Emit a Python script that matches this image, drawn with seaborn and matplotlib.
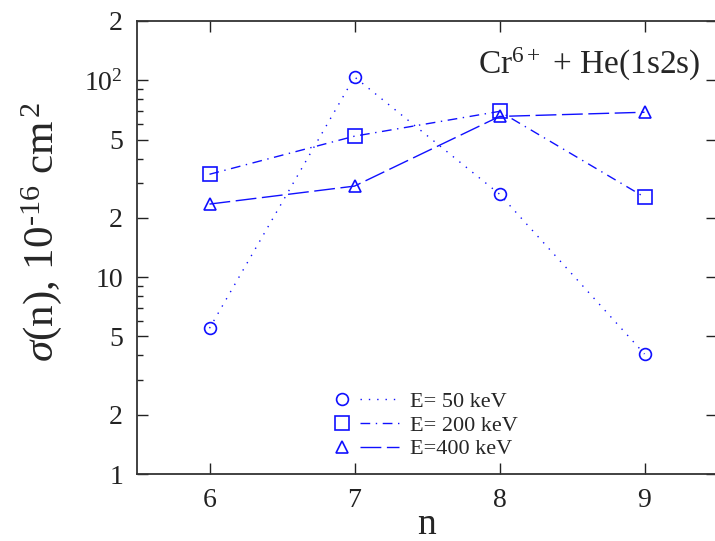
import numpy as np
import pandas as pd
import matplotlib
matplotlib.use("Agg")
import matplotlib.pyplot as plt
import seaborn as sns
from matplotlib.lines import Line2D
from matplotlib.legend_handler import HandlerBase

# ---- data ----
n_vals = [6, 7, 8, 9]
sigma_50 = [5.5, 104, 26.4, 4.07]
sigma_200 = [33.3, 52, 69.5, 25.5]
sigma_400 = [23.5, 29.0, 65.5, 68.8]
labels = ["E= 50 keV", "E= 200 keV", "E=400 keV"]
ytick_vals = [1, 2, 5, 10, 20, 50, 100, 200]
ytick_labels = ["1", "2", "5", "10", "2", "5", r"10$^2$", "2"]
xtick_vals = [6, 7, 8, 9]

sns.set_theme(style="ticks")
plt.rcParams["font.family"] = ["Liberation Serif", "DejaVu Serif"]
plt.rcParams["mathtext.fontset"] = "custom"
plt.rcParams["mathtext.rm"] = "Liberation Serif"
plt.rcParams["mathtext.it"] = "Liberation Serif:italic"
plt.rcParams["mathtext.bf"] = "Liberation Serif:bold"

fig = plt.figure(figsize=(7.15, 5.41), dpi=100)
ax = fig.add_axes([137 / 715, 1 - 474 / 541, 580 / 715, 453 / 541])

blue = "#1010ff"
series = [
    (sigma_50, "o", 8.5, (0, (1, 5))),
    (sigma_200, "s", 9.5, (0, (7, 4, 1, 4))),
    (sigma_400, "^", 8, (0, (15, 4))),
]
for (vals, mk, ms, ls), lab in zip(series, labels):
    df = pd.DataFrame({"n": n_vals, "sigma": vals})
    sns.lineplot(data=df, x="n", y="sigma", ax=ax, color=blue, marker=mk,
                 markersize=ms, markerfacecolor="none", markeredgecolor=blue,
                 markeredgewidth=1.2, linestyle=ls, linewidth=1.0, label=lab)

ax.set_yscale("log")
ax.set_xlim(5.5, 9.5)
ax.set_ylim(1, 200)
ax.set_yticks(ytick_vals)
ax.set_yticklabels(ytick_labels)
ax.set_xticks(xtick_vals)
ax.set_xticklabels([str(v) for v in xtick_vals])
ax.yaxis.set_minor_formatter(matplotlib.ticker.NullFormatter())
ax.tick_params(which="both", direction="in", top=True, right=True,
               labelsize=20, colors="#222222", pad=10)
ax.tick_params(which="major", length=8, width=1)
ax.tick_params(which="minor", length=4, width=1, right=False)
ax.tick_params(axis="x", which="minor", bottom=False, top=False)
for sp in ax.spines.values():
    sp.set_color("#333333")
    sp.set_linewidth(1.3)

ax.set_xlabel("n", fontsize=27, labelpad=-4)
ax.set_ylabel(r"$\sigma$(n), 10$^{\text{-16}}$ cm$^{\,2}$", fontsize=31)
ax.yaxis.set_label_coords(-0.125, 0.535)

ax.text(0.78, 0.905, r"Cr$^{6+}$ + He(1s2s)", transform=ax.transAxes,
        ha="center", va="center", fontsize=24)


class GnuHandler(HandlerBase):
    def create_artists(self, legend, orig, xd, yd, w, h, fs, trans):
        y = h / 2 - yd
        line = Line2D([-xd + 0.38 * w, -xd + w], [y, y])
        line.update_from(orig)
        line.set_marker("")
        mk = Line2D([-xd + 0.09 * w], [y])
        mk.update_from(orig)
        mk.set_linestyle("none")
        line.set_transform(trans)
        mk.set_transform(trans)
        return [line, mk]


handles, labs = ax.get_legend_handles_labels()
ax.legend(handles, labs, handler_map={Line2D: GnuHandler()},
          loc="lower left", bbox_to_anchor=(0.31, -0.012), frameon=False,
          fontsize=16, handlelength=2.8, handletextpad=0.5, labelspacing=0.15)

fig.savefig("out.png", dpi=100)
